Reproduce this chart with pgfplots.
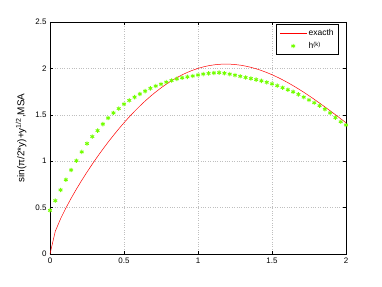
\documentclass[border=0pt]{standalone}
\usepackage{pgfplots}
\pgfplotsset{compat=1.18}
\usepackage{fontspec}
\setmainfont{Liberation Sans}
\definecolor{lime}{rgb}{0.45,1,0}
\definecolor{myred}{rgb}{1,0,0}
\pgfplotsset{
  mylineimg/.style={legend image code/.code={\fill[myred, draw=none] (0cm,-0.3pt) rectangle (0.95cm,0.3pt);}},
  mymarkimg/.style={legend image code/.code={\draw[##1, draw=lime, line width=0.9pt] plot coordinates {(0.475cm,0cm)};}},
}
\begin{document}
\begin{tikzpicture}
\path[use as bounding box] (-50bp,-33bp) rectangle (332bp,254bp);
\begin{axis}[
  at={(0,0)}, anchor=south west,
  scale only axis, width=296bp, height=232bp,
  xmin=0, xmax=2, ymin=0, ymax=2.5,
  xtick={0,0.5,1,1.5,2}, ytick={0,0.5,1,1.5,2,2.5},
  xticklabels={0,0.5,1,1.5,2}, yticklabels={0,0.5,1,1.5,2,2.5},
  tick align=inside, tick pos=both,
  major tick length=3bp,
  grid=major, grid style={dotted, gray!50, line width=0.4pt},
  axis line style={black, line width=0.5pt},
  tick style={black, line width=0.4pt},
  ticklabel style={font=\fontsize{8}{9}\selectfont},
  ylabel={sin(π/2*y)+y\textsuperscript{1/2},MSA},
  ylabel style={font=\fontsize{8}{9}\selectfont},
  every axis y label/.style={at={(ticklabel cs:0.5)}, rotate=90, anchor=south, yshift=2bp},
  legend style={at={(0.976,0.99)}, anchor=north east, font=\fontsize{8.5}{9}\selectfont,
    draw=black, line width=0.6pt, inner xsep=3pt, inner ysep=2.5pt, row sep=1pt},
  legend cell align=left,
]
\addplot[red, line width=0.5pt, mylineimg] coordinates {
(0,0) (0.035714,0.24505) (0.071429,0.37923) (0.107143,0.49483) (0.142857,0.60049)
(0.178571,0.69941) (0.214286,0.79319) (0.25,0.88268) (0.285714,0.96841) (0.321429,1.05067)
(0.357143,1.12965) (0.392857,1.20545) (0.428571,1.27814) (0.464286,1.34773) (0.5,1.41421)
(0.535714,1.47757) (0.571429,1.53776) (0.607143,1.59476) (0.642857,1.64851) (0.678571,1.69898)
(0.714286,1.74612) (0.75,1.78991) (0.785714,1.83029) (0.821429,1.86724) (0.857143,1.90075)
(0.892857,1.93078) (0.928571,1.95734) (0.964286,1.98041) (1,2.0) (1.035714,2.01613)
(1.071429,2.02881) (1.107143,2.03808) (1.142857,2.04397) (1.178571,2.04654) (1.214286,2.04583)
(1.25,2.04191) (1.285714,2.03486) (1.321429,2.02476) (1.357143,2.01169) (1.392857,1.99576)
(1.428571,1.97706) (1.464286,1.95572) (1.5,1.93185) (1.535714,1.90559) (1.571429,1.87706)
(1.607143,1.84640) (1.642857,1.81377) (1.678571,1.77932) (1.714286,1.74319) (1.75,1.70556)
(1.785714,1.66659) (1.821429,1.62644) (1.857143,1.58529) (1.892857,1.54332) (1.928571,1.50070)
(1.964286,1.45760) (2,1.41421)
};
\addlegendentry{exacth}
\addplot[only marks, mark=asterisk, mark size=2.2pt, color=lime, draw=lime, line width=0.9pt, mymarkimg] coordinates {
(0,0.47) (0.035714,0.575) (0.071429,0.69) (0.107143,0.80) (0.142857,0.905)
(0.178571,1.005) (0.214286,1.10) (0.25,1.19) (0.285714,1.265) (0.321429,1.33)
(0.357143,1.40) (0.392857,1.465) (0.428571,1.52) (0.464286,1.567) (0.5,1.615)
(0.535714,1.655) (0.571429,1.69) (0.607143,1.724) (0.642857,1.755) (0.678571,1.785)
(0.714286,1.81) (0.75,1.83) (0.785714,1.852) (0.821429,1.87) (0.857143,1.887)
(0.892857,1.899) (0.928571,1.909) (0.964286,1.918) (1,1.929) (1.035714,1.939)
(1.071429,1.946) (1.107143,1.951) (1.142857,1.954) (1.178571,1.948) (1.214286,1.938)
(1.25,1.927) (1.285714,1.915) (1.321429,1.902) (1.357143,1.891) (1.392857,1.879)
(1.428571,1.866) (1.464286,1.85) (1.5,1.834) (1.535714,1.814) (1.571429,1.792)
(1.607143,1.77) (1.642857,1.748) (1.678571,1.72) (1.714286,1.69) (1.75,1.66)
(1.785714,1.63) (1.821429,1.598) (1.857143,1.56) (1.892857,1.52) (1.928571,1.47)
(1.964286,1.425) (2,1.39)
};
\addlegendentry{h\textsuperscript{(k)}}
\end{axis}
\end{tikzpicture}
\end{document}
